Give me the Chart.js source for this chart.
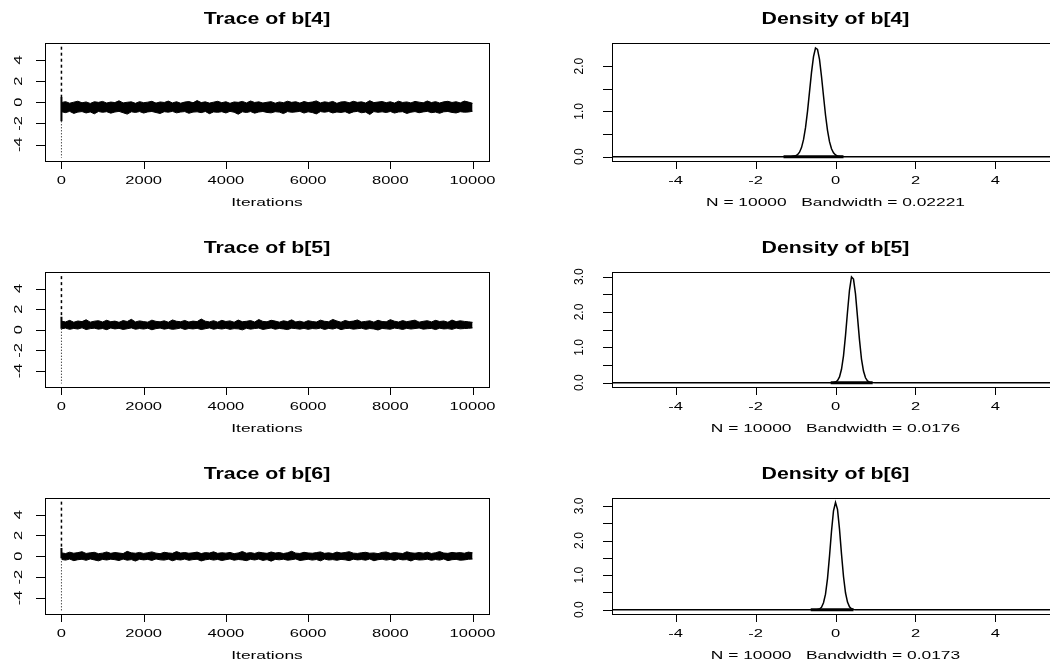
<!DOCTYPE html>
<html>
<head>
<meta charset="utf-8">
<script src="https://cdn.jsdelivr.net/npm/chart.js@4/dist/chart.umd.min.js"></script>
<style>
  body { margin: 0; width: 1050px; height: 664px; overflow: hidden; background: #fff; position: relative; }
  canvas { position: absolute; }
</style>
</head>
<body>
<script>
// ---- MCMC output: trace envelopes (min/max of the chain per block of 100 iterations) ----
const traceIter = [
  10, 100, 200, 300, 400, 500, 600, 700, 800, 900,
  1000, 1100, 1200, 1300, 1400, 1500, 1600, 1700, 1800, 1900,
  2000, 2100, 2200, 2300, 2400, 2500, 2600, 2700, 2800, 2900,
  3000, 3100, 3200, 3300, 3400, 3500, 3600, 3700, 3800, 3900,
  4000, 4100, 4200, 4300, 4400, 4500, 4600, 4700, 4800, 4900,
  5000, 5100, 5200, 5300, 5400, 5500, 5600, 5700, 5800, 5900,
  6000, 6100, 6200, 6300, 6400, 6500, 6600, 6700, 6800, 6900,
  7000, 7100, 7200, 7300, 7400, 7500, 7600, 7700, 7800, 7900,
  8000, 8100, 8200, 8300, 8400, 8500, 8600, 8700, 8800, 8900,
  9000, 9100, 9200, 9300, 9400, 9500, 9600, 9700, 9800, 9900,
  10000
];

const b4Upper = [
  -0.02, 0.06, -0.09, 0.01, 0.10, -0.05, 0.03, -0.11, 0.05, -0.01,
  0.08, -0.07, 0.02, -0.03, 0.14, -0.06, 0.00, 0.04, -0.10, 0.06,
  -0.04, 0.01, 0.09, -0.08, 0.03, -0.02, 0.11, -0.06, 0.05, -0.09,
  0.02, 0.07, -0.05, 0.16, -0.03, 0.04, -0.08, 0.01, 0.09, -0.04,
  0.05, -0.10, 0.03, -0.01, 0.08, -0.06, 0.12, -0.02, 0.04, -0.07,
  0.00, 0.06, -0.09, 0.03, -0.04, 0.10, -0.01, 0.05, -0.08, 0.07,
  -0.03, 0.02, 0.13, -0.06, 0.04, -0.02, 0.08, -0.10, 0.03, 0.06,
  -0.05, 0.09, -0.01, 0.04, -0.07, 0.15, -0.03, 0.02, 0.07, -0.04,
  0.05, -0.08, 0.10, -0.02, 0.03, -0.06, 0.08, 0.01, -0.05, 0.12,
  -0.03, 0.06, -0.07, 0.04, 0.09, -0.02, 0.05, -0.06, 0.11, 0.02,
  -0.10
];
const b4Lower = [
  -0.90, -0.98, -0.86, -1.05, -0.93, -0.88, -1.01, -0.91, -1.09, -0.87,
  -0.95, -0.89, -1.03, -0.92, -0.86, -0.99, -1.12, -0.90, -0.96, -0.88,
  -1.02, -0.91, -0.87, -0.97, -1.06, -0.89, -0.94, -0.86, -1.00, -0.92,
  -0.88, -1.04, -0.93, -0.90, -0.98, -0.87, -1.08, -0.91, -0.95, -0.89,
  -1.01, -0.86, -0.94, -1.13, -0.90, -0.97, -0.88, -1.03, -0.92, -0.87,
  -0.96, -1.00, -0.89, -0.93, -1.07, -0.88, -0.95, -0.91, -0.86, -1.02,
  -0.90, -0.97, -1.10, -0.88, -0.94, -0.87, -1.01, -0.92, -0.96, -0.89,
  -1.05, -0.91, -0.86, -0.99, -0.93, -1.15, -0.88, -0.95, -0.90, -0.97,
  -0.87, -1.02, -0.92, -0.89, -1.06, -0.94, -0.88, -0.99, -0.91, -0.86,
  -0.98, -0.93, -1.04, -0.90, -0.87, -0.96, -1.01, -0.89, -0.94, -0.92,
  -0.85
];

const b5Upper = [
  0.82, 0.76, 0.91, 0.73, 0.85, 0.79, 0.97, 0.74, 0.83, 0.88,
  0.75, 0.92, 0.78, 0.84, 0.72, 0.89, 0.80, 1.01, 0.76, 0.86,
  0.79, 0.74, 0.93, 0.81, 0.77, 0.87, 0.73, 0.95, 0.82, 0.78,
  0.90, 0.75, 0.84, 0.79, 1.04, 0.83, 0.76, 0.88, 0.74, 0.91,
  0.80, 0.86, 0.73, 0.94, 0.78, 0.82, 0.89, 0.75, 0.99, 0.81,
  0.77, 0.92, 0.84, 0.74, 0.87, 0.79, 0.96, 0.76, 0.83, 0.72,
  0.88, 0.80, 0.75, 0.93, 0.82, 0.78, 1.00, 0.85, 0.73, 0.90,
  0.79, 0.84, 0.95, 0.76, 0.81, 0.87, 0.74, 0.92, 0.80, 0.77,
  0.98, 0.83, 0.75, 0.89, 0.78, 0.86, 0.93, 0.74, 0.82, 0.88,
  0.76, 0.91, 0.80, 0.85, 0.73, 0.94, 0.79, 0.87, 0.81, 0.77,
  0.72
];
const b5Lower = [
  0.10, 0.16, 0.04, 0.13, 0.07, 0.19, 0.02, 0.11, 0.15, 0.06,
  0.12, 0.01, 0.17, 0.08, 0.14, 0.03, 0.10, 0.18, 0.05, 0.12,
  0.07, 0.15, 0.00, 0.11, 0.16, 0.06, 0.13, 0.04, 0.09, 0.17,
  0.03, 0.12, 0.08, 0.14, 0.02, 0.10, 0.18, 0.05, 0.13, 0.07,
  0.15, 0.04, 0.11, 0.09, -0.01, 0.14, 0.06, 0.12, 0.16, 0.03,
  0.10, 0.17, 0.05, 0.13, 0.08, 0.02, 0.15, 0.11, 0.06, 0.14,
  0.04, 0.12, 0.09, 0.16, 0.03, 0.13, 0.07, 0.18, 0.01, 0.11,
  0.14, 0.06, 0.10, 0.15, 0.04, 0.12, 0.08, -0.02, 0.13, 0.09,
  0.05, 0.16, 0.11, 0.03, 0.14, 0.07, 0.12, 0.17, 0.06, 0.10,
  0.13, 0.02, 0.15, 0.08, 0.11, 0.04, 0.16, 0.09, 0.12, 0.14,
  0.18
];

const b6Upper = [
  0.32, 0.26, 0.39, 0.29, 0.35, 0.44, 0.27, 0.33, 0.38, 0.25,
  0.30, 0.41, 0.28, 0.36, 0.31, 0.26, 0.47, 0.33, 0.29, 0.37,
  0.27, 0.34, 0.42, 0.30, 0.25, 0.38, 0.32, 0.28, 0.45, 0.31,
  0.36, 0.29, 0.33, 0.40, 0.26, 0.35, 0.31, 0.43, 0.28, 0.34,
  0.30, 0.37, 0.25, 0.32, 0.46, 0.29, 0.35, 0.27, 0.39, 0.33,
  0.28, 0.41, 0.31, 0.36, 0.26, 0.34, 0.48, 0.30, 0.27, 0.38,
  0.32, 0.29, 0.35, 0.42, 0.28, 0.33, 0.26, 0.40, 0.31, 0.36,
  0.44, 0.30, 0.27, 0.34, 0.38, 0.29, 0.32, 0.25, 0.37, 0.41,
  0.28, 0.35, 0.31, 0.26, 0.43, 0.33, 0.29, 0.36, 0.30, 0.39,
  0.27, 0.34, 0.45, 0.31, 0.28, 0.37, 0.32, 0.35, 0.29, 0.40,
  0.33
];
const b6Lower = [
  -0.31, -0.37, -0.27, -0.42, -0.33, -0.29, -0.39, -0.26, -0.35, -0.44,
  -0.30, -0.36, -0.28, -0.33, -0.41, -0.27, -0.38, -0.32, -0.46, -0.29,
  -0.35, -0.30, -0.40, -0.26, -0.34, -0.37, -0.28, -0.43, -0.31, -0.36,
  -0.27, -0.39, -0.32, -0.29, -0.45, -0.34, -0.28, -0.37, -0.30, -0.41,
  -0.33, -0.26, -0.38, -0.31, -0.35, -0.42, -0.29, -0.36, -0.27, -0.40,
  -0.32, -0.47, -0.30, -0.34, -0.28, -0.38, -0.33, -0.26, -0.41, -0.35,
  -0.29, -0.37, -0.31, -0.44, -0.27, -0.36, -0.32, -0.39, -0.30, -0.34,
  -0.42, -0.28, -0.35, -0.31, -0.38, -0.26, -0.43, -0.33, -0.29, -0.37,
  -0.30, -0.40, -0.27, -0.35, -0.32, -0.45, -0.29, -0.36, -0.34, -0.28,
  -0.39, -0.31, -0.37, -0.26, -0.42, -0.33, -0.30, -0.38, -0.35, -0.29,
  -0.27
];

// first few draws of each chain (b[4], b[5], b[6]): wild start before settling
const spikeHigh  = [5.25, 5.2, 5.25];
const spikeUpper = [0.5, 1.25, 0.8];
const spikeLower = [-1.8, 0.1, -0.2];
const spikeLow   = [-5.25, -5.2, -5.25];

// ---- kernel density estimates ----
const densX4 = [-5.6, -1.3, -1.2, -1.1, -1.0, -0.95, -0.9, -0.85, -0.8, -0.75,
  -0.7, -0.65, -0.6, -0.55, -0.5, -0.45, -0.4, -0.35, -0.3, -0.25,
  -0.2, -0.15, -0.1, -0.05, 0.0, 0.05, 0.1, 0.2, 5.6];
const densY4 = [0, 0, 0, 0.002, 0.018, 0.044, 0.098, 0.20, 0.375, 0.64,
  1.00, 1.43, 1.86, 2.21, 2.40, 2.37, 2.15, 1.77, 1.34, 0.92,
  0.58, 0.33, 0.175, 0.085, 0.037, 0.015, 0.006, 0, 0];

const densX5 = [-5.6, -0.2, -0.1, -0.05, 0.0, 0.05, 0.1, 0.15, 0.2, 0.25,
  0.3, 0.35, 0.4, 0.45, 0.5, 0.55, 0.6, 0.65, 0.7, 0.75,
  0.8, 0.85, 0.9, 1.0, 5.6];
const densY5 = [0, 0, 0.001, 0.006, 0.02, 0.063, 0.165, 0.38, 0.76, 1.33,
  2.00, 2.62, 2.99, 2.93, 2.51, 1.86, 1.21, 0.67, 0.33, 0.14,
  0.05, 0.016, 0.004, 0, 0];

const densX6 = [-5.6, -0.6, -0.5, -0.45, -0.4, -0.35, -0.3, -0.25, -0.2, -0.15,
  -0.1, -0.05, 0.0, 0.05, 0.1, 0.15, 0.2, 0.25, 0.3, 0.35,
  0.4, 0.45, 0.5, 0.6, 5.6];
const densY6 = [0, 0, 0.001, 0.006, 0.022, 0.072, 0.20, 0.45, 0.90, 1.55,
  2.27, 2.86, 3.10, 2.90, 2.33, 1.61, 0.96, 0.49, 0.22, 0.082,
  0.028, 0.008, 0.002, 0, 0];

// range of the sample, shown as the rug under each density
const rugLo = [-1.3, -0.12, -0.62];
const rugHi = [0.2, 0.93, 0.45];

const params = ['b[4]', 'b[5]', 'b[6]'];
const bandwidths = ['0.02221', '0.0176', '0.0173'];
const sampleSize = 10000;

const traceTicksX = [0, 2000, 4000, 6000, 8000, 10000];
const traceTicksY = [-4, -2, 0, 2, 4];
const densTicksX = [-4, -2, 0, 2, 4];
const densTicksY = [
  [0, 0.5, 1, 1.5, 2],
  [0, 0.5, 1, 1.5, 2, 2.5, 3],
  [0, 0.5, 1, 1.5, 2, 2.5, 3]
];
const densLabelsY = [
  [0, 1, 2],
  [0, 1, 2, 3],
  [0, 1, 2, 3]
];
const densYMax = [2.51, 3.13, 3.23];

const FONT = '"Liberation Sans", Arial, sans-serif';

function stretchText(ctx, str, x, y, font, sx, angle) {
  ctx.save();
  ctx.translate(x, y);
  if (angle) ctx.rotate(angle);
  ctx.scale(sx, 1);
  ctx.font = font;
  ctx.textAlign = 'center';
  ctx.textBaseline = 'middle';
  ctx.fillText(str, 0, 0);
  ctx.restore();
}

// base-graphics style frame, ticks and labels
const rAxes = {
  id: 'rAxes',
  afterDatasetsDraw(chart, args, o) {
    const { ctx, chartArea: a, scales: { x, y } } = chart;
    ctx.save();
    ctx.strokeStyle = '#000';
    ctx.fillStyle = '#000';
    ctx.lineWidth = 1;
    ctx.strokeRect(a.left + 0.5, a.top + 0.5, a.right - a.left, a.bottom - a.top);

    ctx.beginPath();
    o.xTicks.forEach(v => {
      const px = Math.round(x.getPixelForValue(v)) + 0.5;
      ctx.moveTo(px, a.bottom);
      ctx.lineTo(px, a.bottom + 8);
    });
    o.yTicks.forEach(v => {
      const py = Math.round(y.getPixelForValue(v)) + 0.5;
      ctx.moveTo(a.left - 9, py);
      ctx.lineTo(a.left, py);
    });
    ctx.stroke();

    const small = '11px ' + FONT;
    o.xTicks.forEach(v => {
      stretchText(ctx, String(v), x.getPixelForValue(v), a.bottom + 20, small, 1.5);
    });
    o.yLabels.forEach(v => {
      stretchText(ctx, o.yFormat(v), a.left - o.yLabelGap, y.getPixelForValue(v),
        o.yFont + 'px ' + FONT, o.yStretch, -Math.PI / 2);
    });

    const cx = (a.left + a.right) / 2;
    stretchText(ctx, o.title, cx, a.top - 23, 'bold 16px ' + FONT, 1.33);
    stretchText(ctx, o.xTitle, cx, a.bottom + 42, small, 1.58);
    ctx.restore();
  }
};

const rowTop = [0, 226, 452];
const rowPad = [
  { top: 43, bottom: 65 },
  { top: 46, bottom: 65 },
  { top: 46, bottom: 64 }
];

function makeCanvas(left, top, w, h) {
  const c = document.createElement('canvas');
  c.width = w;
  c.height = h;
  c.style.left = left + 'px';
  c.style.top = top + 'px';
  document.body.appendChild(c);
  return c;
}

function line(points, extra) {
  return Object.assign({
    data: points,
    borderColor: '#000',
    borderWidth: 1,
    pointRadius: 0,
    tension: 0,
    fill: false
  }, extra);
}

const seg = (x0, y0, x1, y1) => [{ x: x0, y: y0 }, { x: x1, y: y1 }];

function baseOptions(pad, xMin, xMax, yMin, yMax, axes) {
  return {
    responsive: false,
    animation: false,
    events: [],
    layout: { padding: pad },
    plugins: { legend: { display: false }, tooltip: { enabled: false }, rAxes: axes },
    scales: {
      x: { type: 'linear', display: false, min: xMin, max: xMax },
      y: { type: 'linear', display: false, min: yMin, max: yMax }
    }
  };
}

const uppers = [b4Upper, b5Upper, b6Upper];
const lowers = [b4Lower, b5Lower, b6Lower];
const densX = [densX4, densX5, densX6];
const densY = [densY4, densY5, densY6];

params.forEach((p, i) => {
  // trace panel
  const tc = makeCanvas(0, rowTop[i], 525, 226);
  new Chart(tc.getContext('2d'), {
    type: 'line',
    data: {
      datasets: [
        line(traceIter.map((t, k) => ({ x: t, y: uppers[i][k] })), { fill: '+1', backgroundColor: '#000' }),
        line(traceIter.map((t, k) => ({ x: t, y: lowers[i][k] }))),
        line(seg(0, spikeHigh[i], 0, spikeUpper[i]), { borderWidth: 1.5, borderDash: [3, 3] }),
        line(seg(0, spikeUpper[i], 0, spikeLower[i]), { borderWidth: 2 }),
        line(seg(0, spikeLower[i], 0, spikeLow[i]), { borderDash: [1, 2] })
      ]
    },
    options: baseOptions({ left: 45, right: 36, top: rowPad[i].top, bottom: rowPad[i].bottom },
      -400, 10400, -5.55, 5.6, {
        title: 'Trace of ' + p,
        xTitle: 'Iterations',
        xTicks: traceTicksX,
        yTicks: traceTicksY,
        yLabels: traceTicksY,
        yFormat: v => String(v),
        yLabelGap: 26,
        yFont: 11,
        yStretch: 1.5
      }),
    plugins: [rAxes]
  });

  // density panel
  const dc = makeCanvas(530, rowTop[i], 540, 226);
  const ymax = densYMax[i];
  new Chart(dc.getContext('2d'), {
    type: 'line',
    data: {
      datasets: [
        line(densX[i].map((v, k) => ({ x: v, y: densY[i][k] })), { borderWidth: 1.5 }),
        line(seg(rugLo[i], 0, rugHi[i], 0), { borderWidth: 3 })
      ]
    },
    options: baseOptions({ left: 82, right: 11, top: rowPad[i].top, bottom: rowPad[i].bottom },
      -5.59, 5.59, -ymax * 0.04 / 1.04, ymax, {
        title: 'Density of ' + p,
        xTitle: 'N = ' + sampleSize + '   Bandwidth = ' + bandwidths[i],
        xTicks: densTicksX,
        yTicks: densTicksY[i],
        yLabels: densLabelsY[i],
        yFormat: v => v.toFixed(1),
        yLabelGap: 32,
        yFont: 12,
        yStretch: 1.0
      }),
    plugins: [rAxes]
  });
});
</script>
</body>
</html>
